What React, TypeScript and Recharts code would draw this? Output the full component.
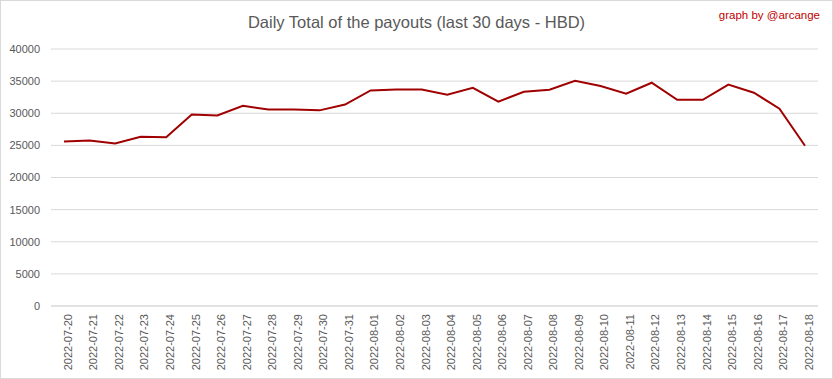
import React from 'react';
import { LineChart, Line, XAxis, YAxis, CartesianGrid } from 'recharts';

const dates = [
  '2022-07-20', '2022-07-21', '2022-07-22', '2022-07-23', '2022-07-24', '2022-07-25',
  '2022-07-26', '2022-07-27', '2022-07-28', '2022-07-29', '2022-07-30', '2022-07-31',
  '2022-08-01', '2022-08-02', '2022-08-03', '2022-08-04', '2022-08-05', '2022-08-06',
  '2022-08-07', '2022-08-08', '2022-08-09', '2022-08-10', '2022-08-11', '2022-08-12',
  '2022-08-13', '2022-08-14', '2022-08-15', '2022-08-16', '2022-08-17', '2022-08-18',
];

const payouts = [
  25600, 25750, 25300, 26350, 26250, 29800,
  29650, 31150, 30600, 30600, 30450, 31350,
  33550, 33700, 33700, 32900, 33950, 31800,
  33350, 33650, 35050, 34250, 33050, 34750,
  32100, 32100, 34450, 33200, 30700, 24950,
];

const yTicks = [0, 5000, 10000, 15000, 20000, 25000, 30000, 35000, 40000];

const data = dates.map((d, i) => ({ date: d, value: payouts[i] }));

const FONT = '"Liberation Sans", Arial, sans-serif';

export default function App() {
  return (
    <div
      style={{
        position: 'absolute',
        left: 0,
        top: 0,
        width: 833,
        height: 379,
        background: '#fff',
        fontFamily: FONT,
      }}
    >
      <div
        style={{
          position: 'absolute',
          left: 0,
          top: 0,
          width: 831,
          height: 377,
          border: '1px solid #d9d9d9',
          pointerEvents: 'none',
        }}
      />
      <div
        style={{
          position: 'absolute',
          left: 0,
          top: 11,
          width: 833,
          textAlign: 'center',
          fontSize: 16.5,
          color: '#595959',
          fontFamily: FONT,
          lineHeight: '22px',
        }}
      >
        Daily Total of the payouts (last 30 days - HBD)
      </div>
      <div
        style={{
          position: 'absolute',
          right: 13,
          top: 7,
          fontSize: 11.5,
          color: '#c00000',
          fontFamily: FONT,
          lineHeight: '16px',
        }}
      >
        graph by @arcange
      </div>
      <LineChart
        width={833}
        height={379}
        data={data}
        margin={{ top: 49, right: 15, bottom: 0, left: 10 }}
      >
        <CartesianGrid vertical={false} stroke="#d9d9d9" strokeWidth={1} />
        <XAxis
          dataKey="date"
          interval={0}
          height={73}
          padding={{ left: 13, right: 13 }}
          axisLine={{ stroke: '#d9d9d9' }}
          tickLine={false}
          tickSize={0}
          tickMargin={8}
          angle={-90}
          textAnchor="end"
          dy={0}
          tick={{ fill: '#595959', fontSize: 11, fontFamily: FONT }}
        />
        <YAxis
          width={41}
          domain={[0, 40000]}
          ticks={yTicks}
          axisLine={false}
          tickLine={false}
          tickSize={0}
          tickMargin={11}
          tick={{ fill: '#595959', fontSize: 11, fontFamily: FONT }}
        />
        <Line
          type="linear"
          dataKey="value"
          stroke="#a00000"
          strokeWidth={2}
          dot={false}
          isAnimationActive={false}
        />
      </LineChart>
    </div>
  );
}
